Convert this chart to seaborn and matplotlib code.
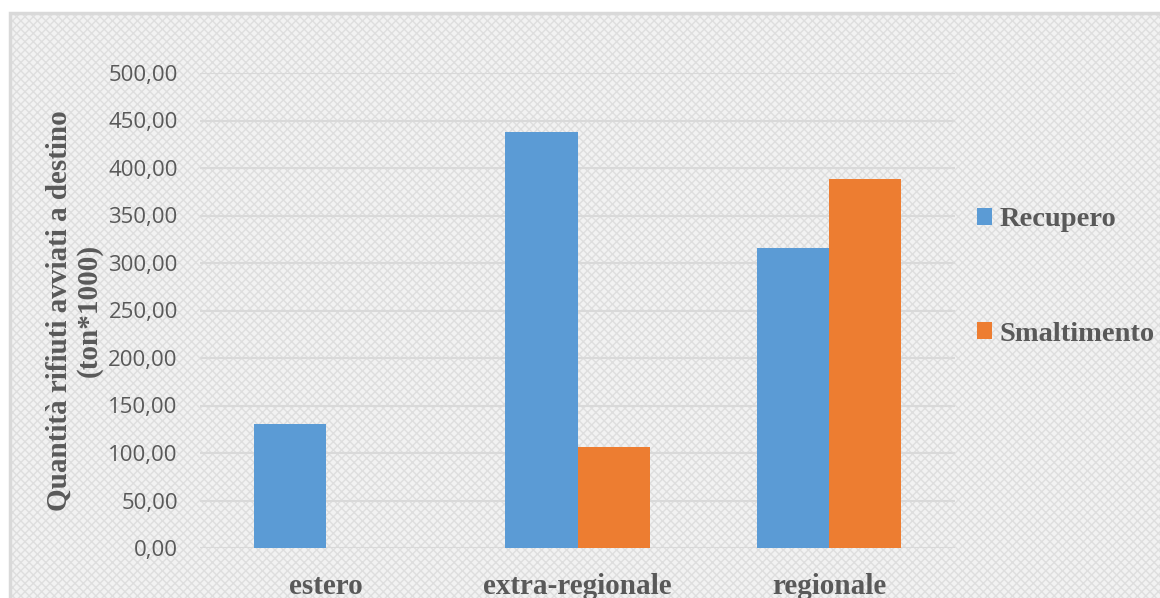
import numpy as np
import pandas as pd
import matplotlib
matplotlib.use("Agg")
import matplotlib.pyplot as plt
import seaborn as sns
from matplotlib.patches import Rectangle
from matplotlib.ticker import FuncFormatter, MultipleLocator

# =========================
# Data (ton*1000)
# =========================
categories = ["estero", "extra-regionale", "regionale"]
recupero = [131.0, 438.0, 316.0]
smaltimento = [np.nan, 106.5, 388.5]
series_names = ["Recupero", "Smaltimento"]

palette = {"Recupero": "#5B9BD5", "Smaltimento": "#ED7D31"}
text_grey = "#595959"

records = []
for i, cat in enumerate(categories):
    records.append({"Destino": cat, "Tipo": "Recupero", "Quantita": recupero[i]})
    records.append({"Destino": cat, "Tipo": "Smaltimento", "Quantita": smaltimento[i]})
df = pd.DataFrame(records)

# =========================
# Style
# =========================
sns.set_theme(style="white")
plt.rcParams.update({
    "font.family": ["Open Sans", "DejaVu Sans"],
    "axes.edgecolor": "#d9d9d9",
})

fig = plt.figure(figsize=(11.6, 5.98), dpi=100)

# patterned chart-area background with thin border
bg = Rectangle((10 / 1160, 0), 1.0, 1 - 13 / 598, transform=fig.transFigure,
               facecolor="#f2f2f2", edgecolor="#dedede", hatch="xxxx",
               linewidth=0, zorder=-10)
fig.patches.append(bg)
border = Rectangle((10 / 1160, -0.01), 1.0, 1 - 13 / 598 + 0.01, transform=fig.transFigure,
                   facecolor="none", edgecolor="#d9d9d9", linewidth=2.5, zorder=-9)
fig.patches.append(border)

ax = fig.add_axes([200 / 1160, 1 - 548 / 598, 755 / 1160, 475 / 598])
ax.set_facecolor("none")

sns.barplot(
    data=df, x="Destino", y="Quantita", hue="Tipo",
    order=categories, hue_order=series_names,
    palette=palette, width=0.574, saturation=1.0,
    linewidth=0, ax=ax, zorder=3,
)

ax.set_ylim(0, 500)
ax.set_xlim(-0.5, 2.5)
ax.yaxis.set_major_locator(MultipleLocator(50))
ax.yaxis.set_major_formatter(FuncFormatter(lambda v, p: f"{v:.2f}".replace(".", ",")))
ax.grid(axis="y", color="#d9d9d9", linewidth=1.5, zorder=0)
ax.set_axisbelow(True)
for s in ax.spines.values():
    s.set_visible(False)

ax.tick_params(axis="y", length=0, pad=16, labelsize=16, labelcolor=text_grey)
ax.tick_params(axis="x", length=0, pad=18)
for lbl in ax.get_xticklabels():
    lbl.set_fontfamily("Liberation Serif")
    lbl.set_fontweight("bold")
    lbl.set_fontsize(21)
    lbl.set_color(text_grey)

ax.set_xlabel("")
ax.set_ylabel("Quantità rifiuti avviati a destino\n(ton*1000)",
              fontfamily="Liberation Serif", fontweight="bold", fontsize=21,
              color=text_grey, linespacing=1.15)
ax.yaxis.set_label_coords(-(200 - 103) / 755, 0.5)

leg = ax.legend(
    loc="center left", bbox_to_anchor=(951 / 1160, 1 - 277 / 598),
    bbox_transform=fig.transFigure, frameon=False,
    prop={"family": "Liberation Serif", "weight": "bold", "size": 20.5},
    labelspacing=3.15, handlelength=0.55, handleheight=0.55, handletextpad=0.25,
)
for t in leg.get_texts():
    t.set_color(text_grey)

fig.savefig("out.png", dpi=100)
